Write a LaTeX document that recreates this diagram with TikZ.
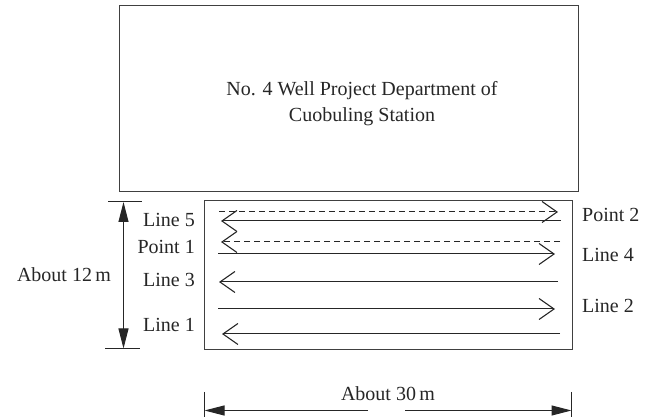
\documentclass[tikz,border=0pt]{standalone}
\usepackage{fontspec}
\setmainfont{Liberation Serif}
\usetikzlibrary{arrows.meta}
\begin{document}
\begin{tikzpicture}[x=1pt,y=-1pt,
  every node/.style={inner sep=0pt,font=\fontsize{20}{26}\selectfont,text=black!85},
  frame/.style={draw=black!75,line width=1pt},
  pathline/.style={draw=black!85,line width=1pt},
  fwd/.style={pathline,-{Straight Barb[length=15pt,width=21pt,line width=1.1pt]}},
  dimline/.style={draw=black!85,line width=1pt},
  dimarr/.style={dimline,{Triangle[length=20pt,width=10pt]}-{Triangle[length=20pt,width=10pt]}},
  lbl/.style={anchor=base east},
  rlbl/.style={anchor=base west}]
\useasboundingbox (0,0) rectangle (649,419);
% top building
\draw[frame] (119.5,6) rectangle (578,191.5);
\node[align=center] (dept) at (362,104) {No. 4 Well Project Department of\\Cuobuling Station};
% survey area
\draw[frame] (204,201) rectangle (572,350);
% survey lines
\coordinate (d1a) at (219,212); \coordinate (d1b) at (558,212);
\coordinate (s5a) at (561,221); \coordinate (s5b) at (221,221);
\coordinate (d2a) at (560,242); \coordinate (d2b) at (221,242);
\coordinate (s4a) at (218,254); \coordinate (s4b) at (555,254);
\coordinate (s3a) at (558,282); \coordinate (s3b) at (219,282);
\coordinate (s2a) at (218,309); \coordinate (s2b) at (555,309);
\coordinate (s1a) at (560,334); \coordinate (s1b) at (222,334);
\draw[fwd,dashed,dash pattern=on 6pt off 4pt] (d1a) -- (d1b);
\draw[fwd] (s5a) -- (s5b);
\draw[fwd,dashed,dash pattern=on 6pt off 4pt] (d2a) -- (d2b);
\draw[fwd] (s4a) -- (s4b);
\draw[fwd] (s3a) -- (s3b);
\draw[fwd] (s2a) -- (s2b);
\draw[fwd] (s1a) -- (s1b);
% labels
\node[lbl] (l5) at (195,227) {Line 5};
\node[lbl] (p1) at (195,254) {Point 1};
\node[lbl] (l3) at (195,287) {Line 3};
\node[lbl] (l1) at (195,332) {Line 1};
\node[rlbl] (p2) at (582,222) {Point 2};
\node[rlbl] (l4) at (582,262) {Line 4};
\node[rlbl] (l2) at (582,313) {Line 2};
% vertical dimension
\coordinate (vt) at (123.5,202); \coordinate (vb) at (123.5,348.5);
\draw[dimline] (108,202) -- (142,202);
\draw[dimline] (105,348.5) -- (140,348.5);
\draw[dimarr] (vt) -- (vb);
\node[anchor=base] (w12) at (64,282) {About 12\,m};
% horizontal dimension
\coordinate (hl) at (204.5,410.5); \coordinate (hr) at (571.5,410.5);
\coordinate (gl) at (368,410.5); \coordinate (gr) at (405,410.5);
\draw[dimline] (204.5,392) -- (204.5,417);
\draw[dimline] (571.5,392) -- (571.5,417);
\draw[dimline,-{Triangle[length=20pt,width=10pt]}] (gl) -- (hl);
\draw[dimline,-{Triangle[length=20pt,width=10pt]}] (gr) -- (hr);
\node[anchor=base] (w30) at (388,401) {About 30\,m};
\end{tikzpicture}
\end{document}
